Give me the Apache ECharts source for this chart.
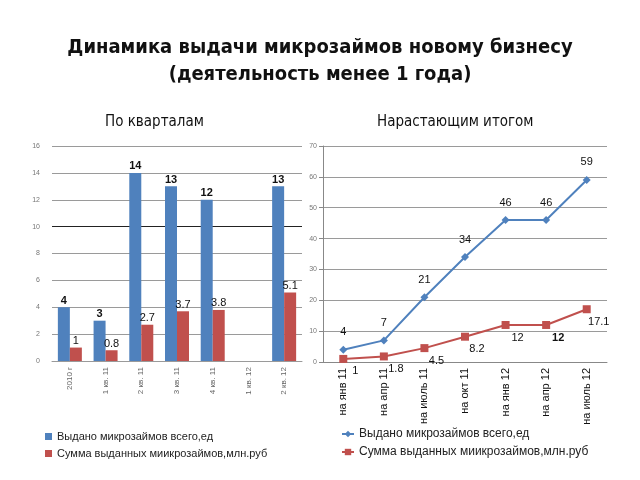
<!DOCTYPE html>
<html>
<head>
<meta charset="utf-8">
<script src="https://cdn.jsdelivr.net/npm/echarts@6/dist/echarts.min.js"></script>
<style>
  body { margin: 0; background: #fff; }
  #chart { width: 640px; height: 480px; }
</style>
</head>
<body>
<div id="chart"></div>
<script>
var quarters = ['2010 г', '1 кв. 11', '2 кв. 11', '3 кв. 11', '4 кв. 11', '1 кв. 12', '2 кв. 12'];
var quarterCount = [4, 3, 14, 13, 12, '-', 13];
var quarterSum = [1, 0.8, 2.7, 3.7, 3.8, '-', 5.1];

var dates = ['на янв 11', 'на апр 11', 'на июль 11', 'на окт 11', 'на янв 12', 'на апр 12', 'на июль 12'];
var totalCount = [4, 7, 21, 34, 46, 46, 59];
var totalSum = [1, 1.8, 4.5, 8.2, 12, 12, 17.1];

var nameCount = 'Выдано микрозаймов всего,ед';
var nameSum = 'Сумма выданных миикрозаймов,млн.руб';
var blue = '#4F81BD', red = '#C0504D';

var myChart = echarts.init(document.getElementById('chart'));

// линия на 10 в левом графике темнее остальных
var gridColors = [];
for (var i = 0; i <= 8; i++) gridColors.push(i == 5 ? '#222' : '#9a9a9a');

var option = {
    animation: false,
    textStyle: { fontFamily: 'Liberation Sans' },
    title: [{
        text: 'Динамика выдачи микрозаймов новому бизнесу\n(деятельность менее 1 года)',
        left: 'center',
        top: 29,
        textStyle: { fontFamily: 'DejaVu Sans Condensed', fontSize: 20, fontWeight: 'bold', lineHeight: 27, color: '#111' }
    }, {
        text: 'По кварталам',
        left: 100,
        top: 110,
        textStyle: { fontFamily: 'DejaVu Sans Condensed', fontSize: 15, fontWeight: 'normal', color: '#111' }
    }, {
        text: 'Нарастающим итогом',
        left: 372,
        top: 110,
        textStyle: { fontFamily: 'DejaVu Sans Condensed', fontSize: 15, fontWeight: 'normal', color: '#111' }
    }],
    legend: [{
        orient: 'vertical',
        left: 40,
        top: 426,
        itemWidth: 7,
        itemHeight: 7,
        itemGap: 6,
        icon: 'rect',
        textStyle: { fontSize: 11, color: '#222' },
        data: [nameCount, nameSum]
    }, {
        orient: 'vertical',
        left: 336,
        top: 423,
        itemWidth: 12,
        itemHeight: 8,
        itemGap: 6,
        textStyle: { fontSize: 12, color: '#222' },
        data: [nameCount + ' ', nameSum + ' ']
    }],
    grid: [
        { left: 52, right: 338, top: 146, bottom: 119 },
        { left: 323, right: 33, top: 146, bottom: 118 }
    ],
    xAxis: [{
        type: 'category',
        gridIndex: 0,
        data: quarters,
        axisLine: { lineStyle: { color: '#9a9a9a' } },
        axisTick: { show: false },
        axisLabel: { rotate: 90, fontSize: 8, color: '#666', interval: 0, margin: 6 }
    }, {
        type: 'category',
        gridIndex: 1,
        data: dates,
        axisLine: { lineStyle: { color: '#888' } },
        axisTick: { lineStyle: { color: '#888' } },
        axisLabel: { rotate: 90, fontSize: 11, color: '#111', interval: 0, margin: 6 }
    }],
    yAxis: [{
        type: 'value',
        gridIndex: 0,
        min: 0,
        max: 16,
        interval: 2,
        axisLine: { show: false },
        axisTick: { show: false },
        axisLabel: { fontSize: 7, color: '#777', margin: 12 },
        splitLine: { lineStyle: { color: gridColors, width: 1 } }
    }, {
        type: 'value',
        gridIndex: 1,
        min: 0,
        max: 70,
        interval: 10,
        axisLine: { show: true, lineStyle: { color: '#888' } },
        axisTick: { show: true, length: 4, lineStyle: { color: '#888' } },
        axisLabel: { fontSize: 7, color: '#777', margin: 6 },
        splitLine: { lineStyle: { color: '#9a9a9a' } }
    }],
    series: [{
        name: nameCount,
        type: 'bar',
        xAxisIndex: 0,
        yAxisIndex: 0,
        data: quarterCount,
        barWidth: 12,
        barGap: '0%',
        itemStyle: { color: blue },
        label: { show: true, position: 'top', distance: 1, fontSize: 11, fontWeight: 'bold', color: '#111' }
    }, {
        name: nameSum,
        type: 'bar',
        xAxisIndex: 0,
        yAxisIndex: 0,
        data: quarterSum,
        barWidth: 12,
        barGap: '0%',
        itemStyle: { color: red },
        label: { show: true, position: 'top', distance: 1, fontSize: 11, color: '#111' }
    }, {
        name: nameCount + ' ',
        type: 'line',
        xAxisIndex: 1,
        yAxisIndex: 1,
        data: totalCount,
        symbol: 'diamond',
        symbolSize: 8,
        lineStyle: { color: blue, width: 2 },
        itemStyle: { color: blue },
        label: { show: true, position: 'top', distance: 8, fontSize: 11, color: '#111' }
    }, {
        name: nameSum + ' ',
        type: 'line',
        xAxisIndex: 1,
        yAxisIndex: 1,
        data: totalSum.map(function (v, i) {
            return i == 5 ? { value: v, label: { fontWeight: 'bold' } } : v;
        }),
        symbol: 'rect',
        symbolSize: 8,
        lineStyle: { color: red, width: 2 },
        itemStyle: { color: red },
        label: { show: true, position: 'bottom', distance: 3, offset: [12, 0], fontSize: 11, color: '#111' }
    }]
};

myChart.setOption(option);
</script>
</body>
</html>
